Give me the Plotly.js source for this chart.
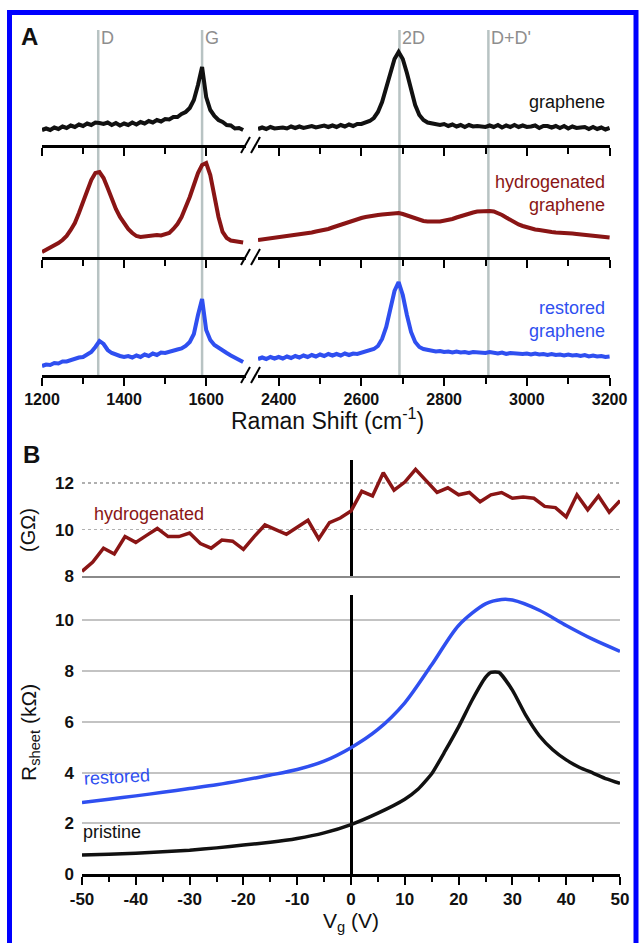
<!DOCTYPE html>
<html>
<head>
<meta charset="utf-8">
<script src="https://cdn.plot.ly/plotly-3.0.1.min.js"></script>
<style>html,body{margin:0;padding:0;background:#fff;}#chart{width:640px;height:943px;}</style>
</head>
<body>
<div id="chart"></div>
<script>
// ---------- Panel A: Raman spectra ----------
const ramanLeft = [1200,1210,1220,1230,1240,1250,1260,1270,1280,1290,1300,1310,1320,1330,1340,1350,1360,1370,1380,1390,1400,1410,1420,1430,1440,1450,1460,1470,1480,1490,1500,1510,1520,1530,1540,1550,1560,1570,1580,1590,1600,1610,1620,1630,1640,1650,1660,1670,1680,1690];
const ramanRight = [2350,2360,2370,2380,2390,2400,2410,2420,2430,2440,2450,2460,2470,2480,2490,2500,2510,2520,2530,2540,2550,2560,2570,2580,2590,2600,2610,2620,2630,2640,2650,2660,2670,2680,2690,2700,2710,2720,2730,2740,2750,2760,2770,2780,2790,2800,2810,2820,2830,2840,2850,2860,2870,2880,2890,2900,2910,2920,2930,2940,2950,2960,2970,2980,2990,3000,3010,3020,3030,3040,3050,3060,3070,3080,3090,3100,3110,3120,3130,3140,3150,3160,3170,3180,3190,3200];

const grapheneLeft = [15,16.5,15,17.5,16,18.5,17,19.5,18,20.5,19,21.5,20,22.5,22,21,22.5,20,22,19.5,21.5,20,22.5,20.5,23,21.5,24,22.5,25,23.5,26,25.5,28,28,31,33,37,45,60,78,48,35,29,25,23,20,19.5,16.5,17,15];
const grapheneRight = [16,17.5,16,18,16.5,17,17.5,16.5,18.5,17,18.5,17,18.5,19,17.5,19,19.5,18,19.5,18,20,18.5,20.5,19,21,21,22,24,27,33,43,57,72,86,93,86,72,55,40,30,25,22.5,21.5,20.5,20,21,19,20.5,18.5,20,18,20,18.5,19,18.5,18,19.5,18,20,17.5,19.5,18,20,18,19.5,18,18.5,19.5,17,19,19,17.5,19,17,19,16.5,18.5,17,17.5,18,16,18,16,17.5,15.5,17];

const hydroLeft = [5,7,9,11,14,17,21,27,34,44,54,66,77,84,85,79,69,57,48,40,34,28,24,21,20,20.5,21.5,21,22,21.5,22.5,24,28,33,40,49,60,72,84,92,94,82,62,40,25,19,16.5,15.5,15,14.5];
const hydroRight = [17,17.5,18,18.5,19,19.5,20,20.5,21.5,22,22.5,23.5,24,24.5,25.5,26,27,28,29.5,31,32.5,34,35.5,37,38,39,40,41,41.5,42,42.5,43,43.5,44,44,43,41.5,40,38.5,37,36,35.5,35,35.5,35.5,36,37,38,39.5,41,42,43.5,44.5,45.5,46,46,46,45.5,44,42,39.5,37,34.5,32.5,31,29.5,28.5,27.5,27,26,25.5,25,24.5,24.5,24,24,23.5,23,22.5,22.5,22,21.5,21,20.5,20,19.5];

const restoredLeft = [9,10.5,10,12,11.5,13.5,13.5,15,15.5,17.5,18,20,23,28,34,31,25,22,20,19,18,19,17.5,19.5,18,20.5,19,21.5,20,22.5,22,23.5,24,25.5,26.5,29,33,41,60,76,45,35,30,27,24,22,19.5,17,15,13];
const restoredRight = [16,17.5,16,18,16.5,18,16.5,18.5,17,19,17.5,19.5,18,20,18.5,20.5,19,21,19.5,21,19.5,21.5,20,21.5,21,22,23,24.5,26,29,36,48,65,84,93,80,60,43,33,28,26,25,24,23.5,24,23,23.5,22.5,23.5,22.5,23,22,23,22.5,23,22,23,22.5,21.5,22.5,21,22,21.5,22,21,21.5,20.5,21.5,20.5,21,20,21,20,20.5,19.5,20.5,19.5,20,19,20,18.5,19.5,18.5,19,18,18.5];

const bandPositions = [1337, 1590, 2692, 2907];
const bandLabels = ['D', 'G', '2D', "D+D'"];

// ---------- Panel B: sheet resistance vs gate voltage ----------
const vgHydro = [-50,-48,-46,-44,-42,-40,-38,-36,-34,-32,-30,-28,-26,-24,-22,-20,-18,-16,-14,-12,-10,-8,-6,-4,-2,0,2,4,6,8,10,12,14,16,18,20,22,24,26,28,30,32,34,36,38,40,42,44,46,48,50];
const rHydro = [8.2,8.6,9.2,8.95,9.7,9.45,9.75,10.05,9.7,9.7,9.85,9.4,9.2,9.55,9.5,9.15,9.7,10.2,10.0,9.8,10.1,10.4,9.6,10.3,10.5,10.8,11.65,11.45,12.45,11.7,12.05,12.6,12.1,11.6,11.8,11.5,11.6,11.2,11.5,11.6,11.35,11.4,11.35,11.0,10.95,10.55,11.5,10.85,11.45,10.75,11.25];

const vgRestored = [-50,-45,-40,-35,-30,-25,-20,-15,-10,-5,0,5,10,15,20,25,28,30,35,40,45,50];
const rRestored = [2.82,2.95,3.08,3.22,3.37,3.52,3.7,3.9,4.12,4.45,4.98,5.7,6.75,8.25,9.8,10.65,10.82,10.8,10.4,9.8,9.25,8.78];

const vgPristine = [-50,-45,-40,-35,-30,-25,-20,-15,-10,-5,0,5,10,12.5,15,17.5,20,22.5,25,26,27.5,30,32.5,35,37.5,40,42.5,45,47.5,50];
const rPristine = [0.75,0.78,0.82,0.88,0.94,1.03,1.14,1.25,1.4,1.62,1.95,2.4,2.95,3.35,3.95,4.85,5.8,6.85,7.75,7.95,7.95,7.25,6.25,5.45,4.9,4.5,4.2,3.98,3.75,3.57];

const vgTickVals = [-50,-40,-30,-20,-10,0,10,20,30,40,50];
const vgTickText = ['-50','-40','-30','-20','-10','0','10','20','30','40','50'];

// ---------- helpers ----------
const W = 640, H = 943;
const px = v => v / W;
const py = v => 1 - v / H;
const FONT = 'Liberation Sans, Arial, Helvetica, sans-serif';
const RED = '#8a1515', BLUE = '#2f4ff0', BLACK = '#111111';

const specLine = c => ({color: c, width: 4});

const traces = [
  {x: ramanLeft, y: grapheneLeft, xaxis: 'x', yaxis: 'y', mode: 'lines', line: specLine(BLACK)},
  {x: ramanRight, y: grapheneRight, xaxis: 'x2', yaxis: 'y', mode: 'lines', line: specLine(BLACK)},
  {x: ramanLeft, y: hydroLeft, xaxis: 'x3', yaxis: 'y2', mode: 'lines', line: specLine(RED)},
  {x: ramanRight, y: hydroRight, xaxis: 'x4', yaxis: 'y2', mode: 'lines', line: specLine(RED)},
  {x: ramanLeft, y: restoredLeft, xaxis: 'x5', yaxis: 'y3', mode: 'lines', line: specLine(BLUE)},
  {x: ramanRight, y: restoredRight, xaxis: 'x6', yaxis: 'y3', mode: 'lines', line: specLine(BLUE)},
  {x: vgHydro, y: rHydro, xaxis: 'x7', yaxis: 'y4', mode: 'lines', line: {color: RED, width: 3.5}},
  {x: vgRestored, y: rRestored, xaxis: 'x8', yaxis: 'y5', mode: 'lines', line: {color: BLUE, width: 3.5, shape: 'spline', smoothing: 0.8}},
  {x: vgPristine, y: rPristine, xaxis: 'x8', yaxis: 'y5', mode: 'lines', line: {color: BLACK, width: 3.5, shape: 'spline', smoothing: 0.5}}
];

const tickFont = {family: FONT, size: 16, color: '#111', weight: 700};
function ramanAxis(isLeft, yref, showLabels) {
  return {
    domain: isLeft ? [px(42), px(246)] : [px(258), px(610)],
    range: isLeft ? [1200, 1697] : [2350, 3201],
    anchor: yref,
    tick0: isLeft ? 1200 : 2400,
    dtick: 200,
    showline: true, linecolor: '#000', linewidth: 2.5,
    ticks: 'outside', ticklen: 8, tickwidth: 2, tickcolor: '#000',
    minor: {dtick: 100, ticks: 'outside', ticklen: 6, tickwidth: 2, tickcolor: '#000'},
    showgrid: false, zeroline: false,
    showticklabels: showLabels, tickfont: tickFont,
    fixedrange: true
  };
}
const hiddenY = (dom, rng) => ({domain: dom, range: rng, visible: false, fixedrange: true});

const layout = {
  width: W, height: H,
  margin: {l: 0, r: 0, t: 0, b: 0},
  paper_bgcolor: '#ffffff', plot_bgcolor: 'rgba(0,0,0,0)',
  showlegend: false,
  font: {family: FONT, color: '#111'},
  xaxis: ramanAxis(true, 'y', false),
  xaxis2: ramanAxis(false, 'y', false),
  xaxis3: ramanAxis(true, 'y2', false),
  xaxis4: ramanAxis(false, 'y2', false),
  xaxis5: ramanAxis(true, 'y3', true),
  xaxis6: ramanAxis(false, 'y3', true),
  yaxis: hiddenY([py(145), py(30)], [0, 115]),
  yaxis2: hiddenY([py(257), py(145)], [0, 112]),
  yaxis3: hiddenY([py(375), py(257)], [0, 118]),
  xaxis7: {
    domain: [px(82), px(620)], range: [-50, 50], anchor: 'y4',
    showline: true, linecolor: '#8a8a8a', linewidth: 2,
    ticks: '', showticklabels: false, showgrid: false,
    zeroline: true, zerolinecolor: '#000', zerolinewidth: 3, fixedrange: true
  },
  yaxis4: {
    domain: [py(576), py(460)], range: [8, 13], anchor: 'x7',
    tickvals: [8, 10, 12], showline: false, ticks: '',
    showgrid: true, gridcolor: '#b0b0b0', griddash: 'dot', gridwidth: 1.5,
    zeroline: false, tickfont: {family: FONT, size: 17, color: '#111', weight: 700},
    ticklabelstandoff: 7, fixedrange: true
  },
  xaxis8: {
    domain: [px(82), px(620)], range: [-50, 50], anchor: 'y5',
    tickmode: 'array', tickvals: vgTickVals, ticktext: vgTickText,
    showline: true, linecolor: '#000', linewidth: 2.5,
    ticks: 'outside', ticklen: 8, tickwidth: 2, tickcolor: '#000',
    minor: {tick0: 0, dtick: 5, ticks: 'outside', ticklen: 5, tickwidth: 2, tickcolor: '#000'},
    showgrid: false,
    zeroline: true, zerolinecolor: '#000', zerolinewidth: 3,
    tickfont: {family: FONT, size: 17, color: '#111', weight: 700},
    title: {text: 'V<sub>g</sub> (V)', font: {family: FONT, size: 21, color: '#111'}, standoff: 4},
    fixedrange: true
  },
  yaxis5: {
    domain: [py(874), py(595)], range: [0, 11], anchor: 'x8',
    dtick: 2, showline: false, ticks: '',
    showgrid: true, gridcolor: '#c3c3c3', gridwidth: 2,
    zeroline: false, tickfont: {family: FONT, size: 17, color: '#111', weight: 700},
    ticklabelstandoff: 7, fixedrange: true
  },
  shapes: [],
  annotations: []
};

// Band marker lines spanning all three spectra
bandPositions.forEach((pos, i) => {
  const xr = pos < 2000 ? 'x' : 'x2';
  layout.shapes.push({type: 'line', xref: xr, yref: 'paper', x0: pos, x1: pos, y0: py(375), y1: py(30),
    line: {color: '#b8c3c3', width: 2.5}, layer: 'below'});
  layout.annotations.push({xref: xr, yref: 'paper', x: pos, y: py(38), xanchor: 'left', yanchor: 'middle',
    xshift: 1, text: bandLabels[i], showarrow: false, font: {family: FONT, size: 18, color: '#8e8e8e'}});
});

// Axis break marks "//"
[145, 257, 375].forEach(yy => {
  [241, 251].forEach(xx => {
    layout.shapes.push({type: 'line', xref: 'paper', yref: 'paper', x0: px(xx), y0: py(yy + 8), x1: px(xx + 9), y1: py(yy - 8),
      line: {color: '#000', width: 2}});
  });
});

// Blue frame
layout.shapes.push({type: 'rect', xref: 'paper', yref: 'paper', x0: px(9.5), x1: px(636), y0: -0.05, y1: py(12.5),
  line: {color: '#0000ff', width: 5}, fillcolor: 'rgba(0,0,0,0)'});

const ann = (x, y, text, opts) => Object.assign({xref: 'paper', yref: 'paper', x: px(x), y: py(y), text: text, showarrow: false,
  xanchor: 'left', yanchor: 'middle'}, opts || {});

layout.annotations.push(
  ann(19, 37, '<b>A</b>', {font: {family: FONT, size: 24, color: '#111'}}),
  ann(21, 454, '<b>B</b>', {font: {family: FONT, size: 24, color: '#111'}}),
  ann(607, 102, 'graphene', {xanchor: 'right', font: {family: FONT, size: 18, color: '#111'}}),
  ann(607, 193, 'hydrogenated<br>graphene', {xanchor: 'right', align: 'right', font: {family: FONT, size: 18, color: RED}}),
  ann(607, 319, 'restored<br>graphene', {xanchor: 'right', align: 'right', font: {family: FONT, size: 18, color: BLUE}}),
  ann(327, 419, 'Raman Shift (cm<sup>-1</sup>)', {xanchor: 'center', font: {family: FONT, size: 23, color: '#111'}}),
  ann(92, 514, 'hydrogenated', {font: {family: FONT, size: 18, color: RED}}),
  ann(81, 777, 'restored', {textangle: -3, font: {family: FONT, size: 18, color: BLUE}}),
  ann(81, 832, 'pristine', {font: {family: FONT, size: 18, color: '#111'}}),
  ann(28, 530, '(GΩ)', {xanchor: 'center', textangle: -90, font: {family: FONT, size: 20, color: '#111'}}),
  ann(30, 733, 'R<sub>sheet</sub> (kΩ)', {xanchor: 'center', textangle: -90, font: {family: FONT, size: 21, color: '#111'}})
);

Plotly.newPlot('chart', traces, layout, {staticPlot: true, displayModeBar: false});
</script>
</body>
</html>
